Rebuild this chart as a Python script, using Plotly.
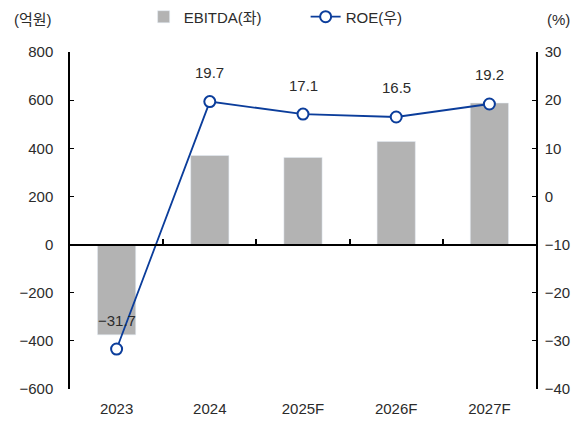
import plotly.graph_objects as go

categories = ["2023", "2024", "2025F", "2026F", "2027F"]
ebitda = [-375, 370, 362, 428, 588]
roe = [-31.7, 19.7, 17.1, 16.5, 19.2]
roe_labels = ["−31.7", "19.7", "17.1", "16.5", "19.2"]

FONT = "Liberation Sans, Arial, Noto Sans CJK KR"
BLUE = "#0b3d9b"
GRAY = "#b3b3b3"
TXT = "#2b2b2b"

fig = go.Figure()
fig.add_trace(go.Bar(x=categories, y=ebitda, name="EBITDA(좌)", marker_color=GRAY,
                     width=0.41, yaxis="y"))
fig.add_trace(go.Scatter(x=categories, y=roe, name="ROE(우)", mode="lines+markers",
                         line=dict(color=BLUE, width=1.8),
                         marker=dict(size=11, color="white", line=dict(color=BLUE, width=2)),
                         yaxis="y2"))

for i, (v, t) in enumerate(zip(roe, roe_labels)):
    fig.add_annotation(x=i, y=v, xref="x", yref="y2", text=t, showarrow=False,
                       yshift=29, font=dict(size=15, color=TXT))

zero_pos = 600 / 1400
n = len(categories)

fig.update_layout(
    width=579, height=418,
    margin=dict(l=62, r=51, t=44, b=37, autoexpand=False),
    plot_bgcolor="white", paper_bgcolor="white",
    font=dict(family=FONT, size=15, color=TXT),
    showlegend=True,
    legend=dict(orientation="h", x=0.158, xanchor="left", y=1.055, yanchor="bottom",
                entrywidth=117, font=dict(size=15), bgcolor="rgba(0,0,0,0)"),
    xaxis=dict(type="category", showline=False, ticks="", showgrid=False,
               tickfont=dict(size=15), range=[-0.5, n - 0.5], ticklabelstandoff=9),
    xaxis2=dict(overlaying="x", anchor="free", position=zero_pos, range=[-0.5, n - 0.5],
                showline=True, linecolor="black", linewidth=1.5,
                ticks="inside", ticklen=5, tickcolor="black", tickwidth=1.5,
                tickvals=[i + 0.5 for i in range(n - 1)],
                showticklabels=False, showgrid=False, zeroline=False),
    yaxis=dict(range=[-600, 800], dtick=200, showline=True, linecolor="black",
               linewidth=1.5, ticks="inside", ticklen=4, tickcolor="black",
               showgrid=False, zeroline=False, tickfont=dict(size=15),
               ticklabelstandoff=12),
    yaxis2=dict(range=[-40, 30], dtick=10, overlaying="y", side="right",
                showline=True, linecolor="black", linewidth=1.5, ticks="inside",
                ticklen=4, tickcolor="black", showgrid=False, zeroline=False,
                tickfont=dict(size=15), ticklabelstandoff=4),
)

fig.add_trace(go.Scatter(x=list(range(n)), y=[0] * n, xaxis="x2", yaxis="y", mode="lines",
                         line=dict(width=0), showlegend=False, hoverinfo="skip"))

fig.add_annotation(text="(억원)", xref="paper", yref="paper", x=-0.125, y=1.0,
                   xanchor="left", yanchor="bottom", yshift=22, showarrow=False,
                   font=dict(size=15))
fig.add_annotation(text="(%)", xref="paper", yref="paper", x=1.02, y=1.0,
                   xanchor="left", yanchor="bottom", yshift=22, showarrow=False,
                   font=dict(size=15))

fig.write_html("out.html")
